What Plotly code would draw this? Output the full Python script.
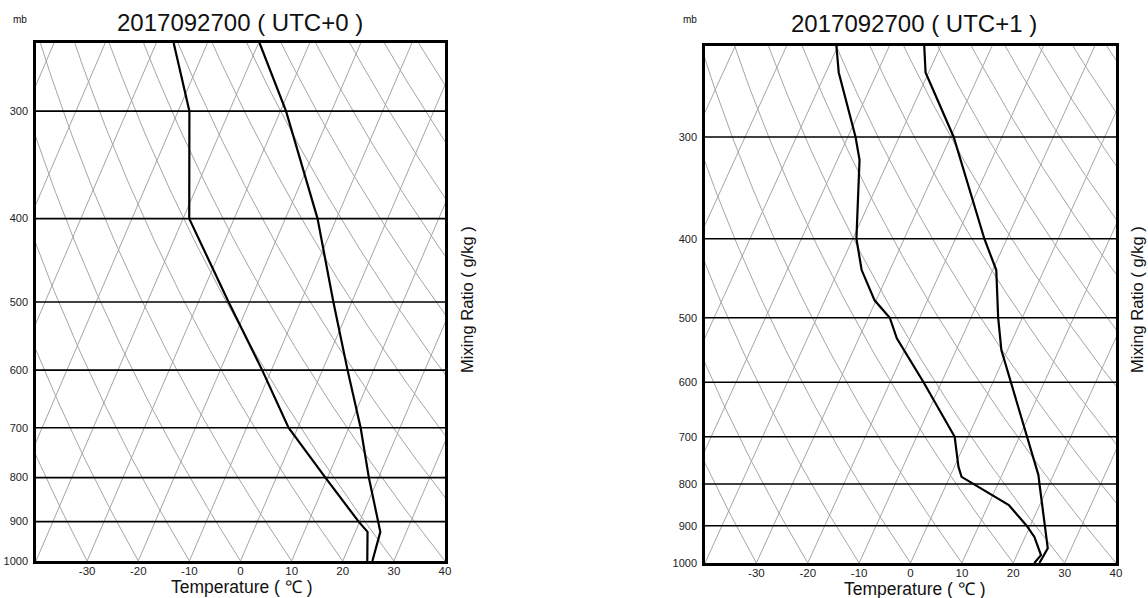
import numpy as np
import plotly.graph_objects as go

# Skew factor of the diagram: degrees C added per unit of ln(1000/p)
SKEW = 31.4

# Panel 1: sounding at 2017092700 (UTC+0) -- pressure (hPa), temperature and dew point (deg C)
p_a = [250, 300, 400, 500, 600, 700, 800, 900, 925, 1000]
temp_a = [-39.8, -28.9, -13.7, -3.6, 4.9, 12.3, 18.1, 23.5, 24.9, 25.8]
dew_a = [-56.6, -47.8, -38.8, -24.1, -11.8, -1.8, 9.6, 19.8, 22.4, 24.8]

# Panel 2: sounding at 2017092700 (UTC+1)
p_b_temp = [232, 250, 300, 400, 437, 476, 500, 548, 600, 700, 780, 800, 900, 959, 1000]
temp_b = [-43.2, -40.6, -29.4, -14.4, -9.3, -6.4, -4.7, -1.2, 3.5, 11.4, 17.1, 18.1, 22.8, 25.4, 25.1]
p_b_dew = [232, 250, 300, 320, 400, 437, 476, 500, 530, 600, 700, 762, 784, 800, 849, 900, 929, 978, 1000]
dew_b = [-60.3, -57.5, -48.5, -45.7, -39.3, -35.5, -30.3, -25.8, -22.6, -13.5, -2.6, 0.8, 2.3, 5.3, 14.0, 19.3, 21.8, 24.7, 24.1]

titles = ["2017092700 ( UTC+0 )", "2017092700 ( UTC+1 )"]
p_top = [250, 232]
isobars = [300, 400, 500, 600, 700, 800, 900]
p_ticks = [300, 400, 500, 600, 700, 800, 900, 1000]
t_ticks = [-30, -20, -10, 0, 10, 20, 30, 40]
t_ticklabels = ["-30", "-20", "-10", "0", "10", "20", "30", "40"]
isotherms = list(range(-130, 50, 10))
dry_adiabats = list(range(-40, 150, 10))


def skew(t, p):
    t = np.asarray(t, dtype=float)
    p = np.asarray(p, dtype=float)
    return t + SKEW * np.log(1000.0 / p)


fig = go.Figure()

panels = [
    dict(xa="x", ya="y", p_t=p_a, t=temp_a, p_d=p_a, d=dew_a, top=p_top[0]),
    dict(xa="x2", ya="y2", p_t=p_b_temp, t=temp_b, p_d=p_b_dew, d=dew_b, top=p_top[1]),
]

grey = dict(color="rgb(165,165,165)", width=1)
for pan in panels:
    pp = np.geomspace(1000, pan["top"] * 0.97, 80)
    # isotherms (straight skewed lines)
    for t in isotherms:
        fig.add_trace(go.Scatter(x=skew(np.full(2, t), [1000, pp[-1]]), y=[1000, pp[-1]],
                                 mode="lines", line=grey, xaxis=pan["xa"], yaxis=pan["ya"],
                                 hoverinfo="skip", showlegend=False))
    # dry adiabats
    for th in dry_adiabats:
        tk = (th + 273.15) * (pp / 1000.0) ** 0.286 - 273.15
        fig.add_trace(go.Scatter(x=skew(tk, pp), y=pp, mode="lines", line=grey,
                                 xaxis=pan["xa"], yaxis=pan["ya"],
                                 hoverinfo="skip", showlegend=False))
    # isobars
    for p in isobars:
        fig.add_trace(go.Scatter(x=[-40, 40], y=[p, p], mode="lines",
                                 line=dict(color="black", width=1.6),
                                 xaxis=pan["xa"], yaxis=pan["ya"],
                                 hoverinfo="skip", showlegend=False))
    # temperature and dew point profiles
    fig.add_trace(go.Scatter(x=skew(pan["t"], pan["p_t"]), y=pan["p_t"], mode="lines",
                             line=dict(color="black", width=2.2),
                             xaxis=pan["xa"], yaxis=pan["ya"], showlegend=False))
    fig.add_trace(go.Scatter(x=skew(pan["d"], pan["p_d"]), y=pan["p_d"], mode="lines",
                             line=dict(color="black", width=2.2),
                             xaxis=pan["xa"], yaxis=pan["ya"], showlegend=False))

font = "Liberation Sans, Arial, Helvetica, sans-serif"

xcommon = dict(range=[-40, 40], tickvals=t_ticks, ticktext=t_ticklabels, showgrid=False,
               zeroline=False, showline=True, linecolor="black", linewidth=2.5, mirror=True,
               ticks="", tickfont=dict(size=11.5, color="#222", family=font),
               ticklabelstandoff=-3, automargin=False)
ycommon = dict(type="log", tickvals=p_ticks, ticktext=[str(v) for v in p_ticks], showgrid=False,
               zeroline=False, showline=True, linecolor="black", linewidth=2.5, mirror=True,
               ticks="", tickfont=dict(size=11, color="#222", family=font),
               ticklabelstandoff=3, automargin=False)

W, H = 1148, 598
fig.update_layout(
    width=W, height=H, margin=dict(l=0, r=0, t=0, b=0),
    paper_bgcolor="white", plot_bgcolor="white",
    font=dict(family=font, color="#111"),
    showlegend=False,
    xaxis=dict(domain=[36 / W, 445 / W], anchor="y", **xcommon),
    yaxis=dict(domain=[1 - 561 / H, 1 - 43 / H], anchor="x",
               range=[3, np.log10(p_top[0])], **ycommon),
    xaxis2=dict(domain=[705 / W, 1116 / W], anchor="y2", **xcommon),
    yaxis2=dict(domain=[1 - 563 / H, 1 - 46 / H], anchor="x2",
                range=[3, np.log10(p_top[1])], **ycommon),
)


def text(x, y, s, size, angle=0, color="#111"):
    fig.add_annotation(x=x / W, y=1 - y / H, xref="paper", yref="paper", text=s,
                       showarrow=False, textangle=angle, xanchor="center", yanchor="middle",
                       font=dict(size=size, color=color, family=font))


text(240, 23, titles[0], 24)
text(914, 24, titles[1], 24)
text(20, 20, "mb", 10)
text(690, 20, "mb", 10)
text(241, 587, "Temperature ( ℃ )", 17.5)
text(915, 589, "Temperature ( ℃ )", 17.5)
text(467, 300, "Mixing Ratio ( g/kg )", 16.5, angle=-90)
text(1137, 300, "Mixing Ratio ( g/kg )", 16.5, angle=-90)

fig.write_html("out.html")
